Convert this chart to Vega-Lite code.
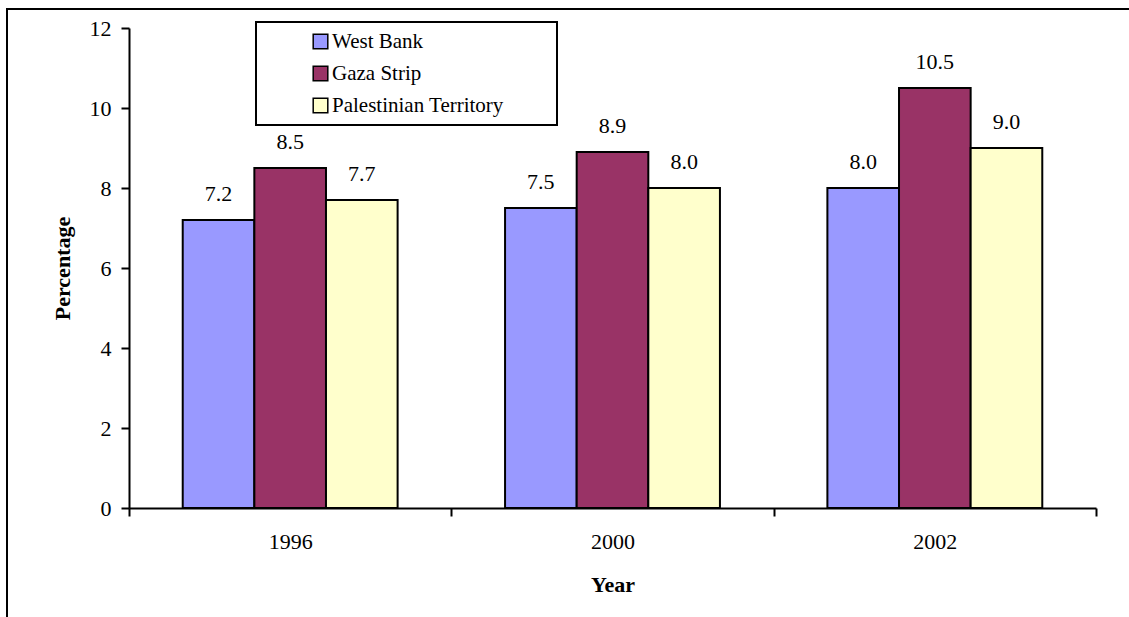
{
  "$schema": "https://vega.github.io/schema/vega-lite/v6.json",
  "width": 1125,
  "height": 611,
  "autosize": {"type": "none"},
  "padding": {"left": 7, "top": 9, "right": -3, "bottom": -3},
  "background": "white",
  "config": {
    "font": "Liberation Serif",
    "view": {"stroke": "black", "strokeWidth": 2, "fill": "white"},
    "legend": {"strokeWidth": 2},
    "axis": {
      "domainColor": "black",
      "domainWidth": 2,
      "tickColor": "black",
      "tickWidth": 2,
      "tickSize": 8,
      "labelColor": "black",
      "labelFont": "Liberation Serif",
      "labelFontSize": 22,
      "titleFont": "Liberation Serif",
      "titleFontSize": 22,
      "titleFontWeight": "bold",
      "titleColor": "black",
      "grid": false
    }
  },
  "data": {
    "values": [
      {"year": "1996", "region": "West Bank", "value": 7.2},
      {"year": "1996", "region": "Gaza Strip", "value": 8.5},
      {"year": "1996", "region": "Palestinian Territory", "value": 7.7},
      {"year": "2000", "region": "West Bank", "value": 7.5},
      {"year": "2000", "region": "Gaza Strip", "value": 8.9},
      {"year": "2000", "region": "Palestinian Territory", "value": 8.0},
      {"year": "2002", "region": "West Bank", "value": 8.0},
      {"year": "2002", "region": "Gaza Strip", "value": 10.5},
      {"year": "2002", "region": "Palestinian Territory", "value": 9.0}
    ]
  },
  "encoding": {
    "x": {
      "field": "year",
      "type": "nominal",
      "scale": {"range": [122, 1089], "paddingInner": 0, "paddingOuter": 0},
      "axis": {
        "title": "Year",
        "labelAngle": 0,
        "offset": -112,
        "tickBand": "extent",
        "labelPadding": 15,
        "titlePadding": 22
      }
    },
    "xOffset": {
      "field": "region",
      "type": "nominal",
      "sort": ["West Bank", "Gaza Strip", "Palestinian Territory"],
      "scale": {"paddingInner": 0, "paddingOuter": 0.75}
    },
    "y": {
      "field": "value",
      "type": "quantitative",
      "scale": {"domain": [0, 12], "range": [499, 19], "nice": false},
      "axis": {
        "title": "Percentage",
        "values": [0, 2, 4, 6, 8, 10, 12],
        "offset": -122,
        "labelPadding": 10,
        "titlePadding": 15
      }
    }
  },
  "layer": [
    {
      "mark": {"type": "bar", "stroke": "black", "strokeWidth": 2},
      "encoding": {
        "color": {
          "field": "region",
          "type": "nominal",
          "sort": ["West Bank", "Gaza Strip", "Palestinian Territory"],
          "scale": {
            "domain": ["West Bank", "Gaza Strip", "Palestinian Territory"],
            "range": ["#9999FF", "#993366", "#FFFFCC"]
          },
          "legend": {
            "orient": "none",
            "legendX": 249,
            "legendY": 13,
            "title": "\u00a0",
            "titleOrient": "right",
            "titlePadding": 44,
            "strokeColor": "black",
            "fillColor": "white",
            "padding": 9,
            "symbolType": "square",
            "symbolSize": 213,
            "symbolStrokeColor": "black",
            "symbolStrokeWidth": 1.5,
            "symbolOpacity": 1,
            "symbolOffset": 45,
            "labelOffset": 1,
            "labelLimit": 400,
            "labelFont": "Liberation Serif",
            "labelFontSize": 21,
            "labelColor": "black",
            "rowPadding": 10
          }
        }
      }
    },
    {
      "mark": {"type": "text", "baseline": "alphabetic", "dy": -19, "fontSize": 22, "font": "Liberation Serif", "color": "black"},
      "encoding": {
        "text": {"field": "value", "type": "quantitative", "format": ".1f"}
      }
    }
  ]
}
